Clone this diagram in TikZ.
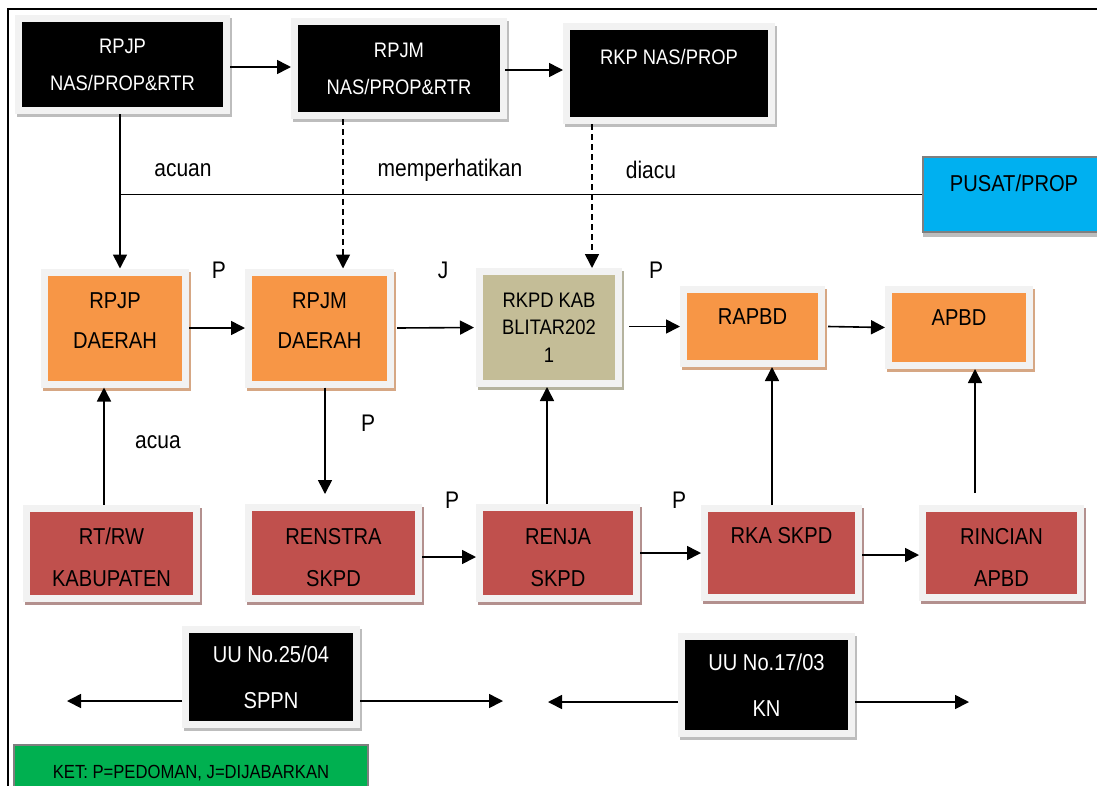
\documentclass[tikz,border=0pt]{standalone}
\usepackage{fontspec}
\setmainfont[FakeStretch=0.875]{Liberation Sans}
\usetikzlibrary{arrows.meta,calc}
\definecolor{frameg}{HTML}{F2F2F2}
\definecolor{shgray}{HTML}{BDBDBD}
\definecolor{orangeb}{HTML}{F79646}
\definecolor{shorange}{HTML}{D6A784}
\definecolor{redb}{HTML}{C0504D}
\definecolor{shred}{HTML}{B3908E}
\definecolor{tanb}{HTML}{C4BD97}
\definecolor{shtan}{HTML}{B5B39E}
\definecolor{blueb}{HTML}{00B0F0}
\definecolor{greenb}{HTML}{00B050}
\definecolor{borderg}{HTML}{7F7F7F}
\begin{document}
\begin{tikzpicture}[x=1pt,y=-1pt,
  framed/.style={rectangle, inner sep=0pt, outer sep=7pt, align=center,
    preaction={fill=#1, draw=#1, line width=14pt, transform canvas={shift={(2pt,-3pt)}}},
    preaction={draw=frameg, line width=14pt}},
  blackbox/.style={framed=shgray, fill=black, text=white, font=\fontsize{21}{37}\selectfont},
  uubox/.style={framed=shgray, fill=black, text=white, font=\fontsize{23}{46}\selectfont},
  orangebox/.style={framed=shorange, fill=orangeb, text=black, font=\fontsize{23}{40}\selectfont},
  redbox/.style={framed=shred, fill=redb, text=black, font=\fontsize{23}{42}\selectfont},
  tanbox/.style={framed=shtan, fill=tanb, text=black, font=\fontsize{21}{27.5}\selectfont},
  lbl/.style={font=\fontsize{24}{28}\selectfont, inner sep=0pt},
  arr/.style={-{Triangle[length=14pt,width=14pt]}, line width=1.6pt},
  dsh/.style={arr, dash pattern=on 6pt off 4pt},
  plain/.style={line width=1.6pt}
]
\useasboundingbox (0,0) rectangle (1097,785);
\clip (0,0) rectangle (1097,785);

% outer frame
\draw[line width=2pt] (8,790) -- (8,9) -- (1100,9);

% top row
\node[blackbox, minimum width=201pt, minimum height=85pt] (rpjp) at (122.5,64.5) {RPJP\\NAS/PROP\&RTR};
\node[blackbox, minimum width=202pt, minimum height=87pt] (rpjm) at (399,68.5) {RPJM\\NAS/PROP\&RTR};
\node[blackbox, minimum width=198pt, minimum height=87pt, text height=15pt, text depth=33pt] (rkp) at (669,73.5) {RKP NAS/PROP};
\node[rectangle, draw=borderg, line width=2.5pt, fill=blueb, minimum width=182pt, minimum height=75pt,
  inner sep=0pt, outer sep=1pt, font=\fontsize{23}{28}\selectfont, text height=16.5pt, text depth=23pt,
  preaction={fill=shgray, draw=shgray, line width=2.5pt, transform canvas={shift={(1pt,-4pt)}}}]
  (pusat) at (1014,194.5) {PUSAT/PROP};

% second row
\node[orangebox, minimum width=134pt, minimum height=105pt] (rpjpd) at (115,328) {RPJP\\DAERAH\\[-26pt]{}};
\node[orangebox, minimum width=135pt, minimum height=105pt] (rpjmd) at (319.5,328) {RPJM\\DAERAH\\[-26pt]{}};
\node[tanbox, minimum width=132pt, minimum height=105pt] (rkpd) at (549,327.5) {RKPD KAB\\BLITAR202\\1};
\node[orangebox, minimum width=131pt, minimum height=67pt, text height=16.5pt, text depth=20pt] (rapbd) at (752.5,326.5) {RAPBD};
\node[orangebox, minimum width=134pt, minimum height=69pt, text height=16.5pt, text depth=20pt] (apbd) at (959,327.5) {APBD};

% third row
\node[redbox, minimum width=163pt, minimum height=83pt] (rtrw) at (111.5,553) {{}\\[-17.5pt]RT/RW\\KABUPATEN};
\node[redbox, minimum width=163pt, minimum height=84pt] (renstra) at (333.5,553) {{}\\[-17.5pt]RENSTRA\\SKPD};
\node[redbox, minimum width=150pt, minimum height=84pt] (renja) at (558,553) {{}\\[-17.5pt]RENJA\\SKPD};
\node[redbox, minimum width=147pt, minimum height=82pt, text height=16.5pt, text depth=36pt] (rka) at (781.5,553) {RKA SKPD};
\node[redbox, minimum width=151pt, minimum height=82pt] (rincian) at (1001.5,553) {{}\\[-17.5pt]RINCIAN\\APBD};

% bottom row
\node[uubox, minimum width=164pt, minimum height=88pt] (uu25) at (271,677) {UU No.25/04\\SPPN};
\node[uubox, minimum width=163pt, minimum height=90pt] (uu17) at (766.5,685) {UU No.17/03\\KN};
\node[rectangle, draw=borderg, line width=2pt, fill=greenb, minimum width=354pt, minimum height=56pt,
  inner sep=0pt, font=\fontsize{19}{22}\selectfont] (ket) at (191,773) {KET: P=PEDOMAN, J=DIJABARKAN};

% labels
\node[lbl] (lacuan) at (183,170) {acuan};
\node[lbl] (lmemp) at (450,170) {memperhatikan};
\node[lbl] (ldiacu) at (651,170) {diacu};
\node[lbl] (lp1) at (219,270) {P};
\node[lbl] (lj) at (443,270) {J};
\node[lbl] (lp2) at (656,270) {P};
\node[lbl] (lp3) at (368,423) {P};
\node[lbl] (lacua) at (158,442) {acua};
\node[lbl] (lp4) at (452,500) {P};
\node[lbl] (lp5) at (679,500) {P};

% top connectors
\draw[arr] (rpjp.east |- 0,67) -- (rpjm.west |- 0,67);
\draw[arr] ([xshift=-2pt]rpjm.east |- 0,70) -- (rkp.west |- 0,70);
\draw[plain] ([xshift=-2.5pt]rpjp.south |- pusat.west) -- (pusat.west);
\draw[arr] ([xshift=-2.5pt]rpjp.south) -- ([xshift=-2.5pt]rpjp.south |- rpjpd.north);
\draw[dsh] ([xshift=-56pt]rpjm.south) -- ([xshift=-56pt]rpjm.south |- rpjmd.north);
\draw[dsh] ([xshift=-77pt]rkp.south) -- ([xshift=-77pt]rkp.south |- rkpd.north);

% second row connectors
\draw[arr] (rpjpd.east) -- (rpjmd.west);
\draw[arr] ([xshift=3pt]rpjmd.east) -- ([xshift=-2pt]rkpd.west);
\draw[arr] ([xshift=7pt]rkpd.east |- rapbd.west) -- (rapbd.west);
\draw[arr] ([xshift=3pt]rapbd.east) -- (apbd.west);

% vertical connectors
\draw[arr] ([xshift=-7.5pt]rtrw.north) -- ([xshift=-7.5pt]rtrw.north |- rpjpd.south);
\draw[arr, shorten >=10pt] ([xshift=5.5pt]rpjmd.south) -- ([xshift=5.5pt]rpjmd.south |- renstra.north);
\draw[arr] ([xshift=-11pt]renja.north) -- ([xshift=-11pt]renja.north |- rkpd.south);
\draw[arr] ([xshift=-9.5pt]rka.north) -- ([xshift=-9.5pt]rka.north |- rapbd.south);
\draw[arr, shorten <=12pt] ([xshift=-26.5pt]rincian.north) -- ([xshift=-26.5pt]rincian.north |- apbd.south);

% third row connectors
\draw[arr] ([yshift=-4pt]renstra.east) -- ([yshift=-4pt]renja.west);
\draw[arr] (renja.east) -- (rka.west);
\draw[arr] ([yshift=-2pt]rka.east) -- ([yshift=-2pt]rincian.west);

% bottom arrows
\coordinate (t1) at (67,701);
\coordinate (t2) at (503,701);
\coordinate (t3) at (548,702);
\coordinate (t4) at (969,702);
\draw[arr] (uu25.west |- t1) -- (t1);
\draw[arr] (uu25.east |- t2) -- (t2);
\draw[arr] (uu17.west |- t3) -- (t3);
\draw[arr] (uu17.east |- t4) -- (t4);
\end{tikzpicture}
\end{document}
